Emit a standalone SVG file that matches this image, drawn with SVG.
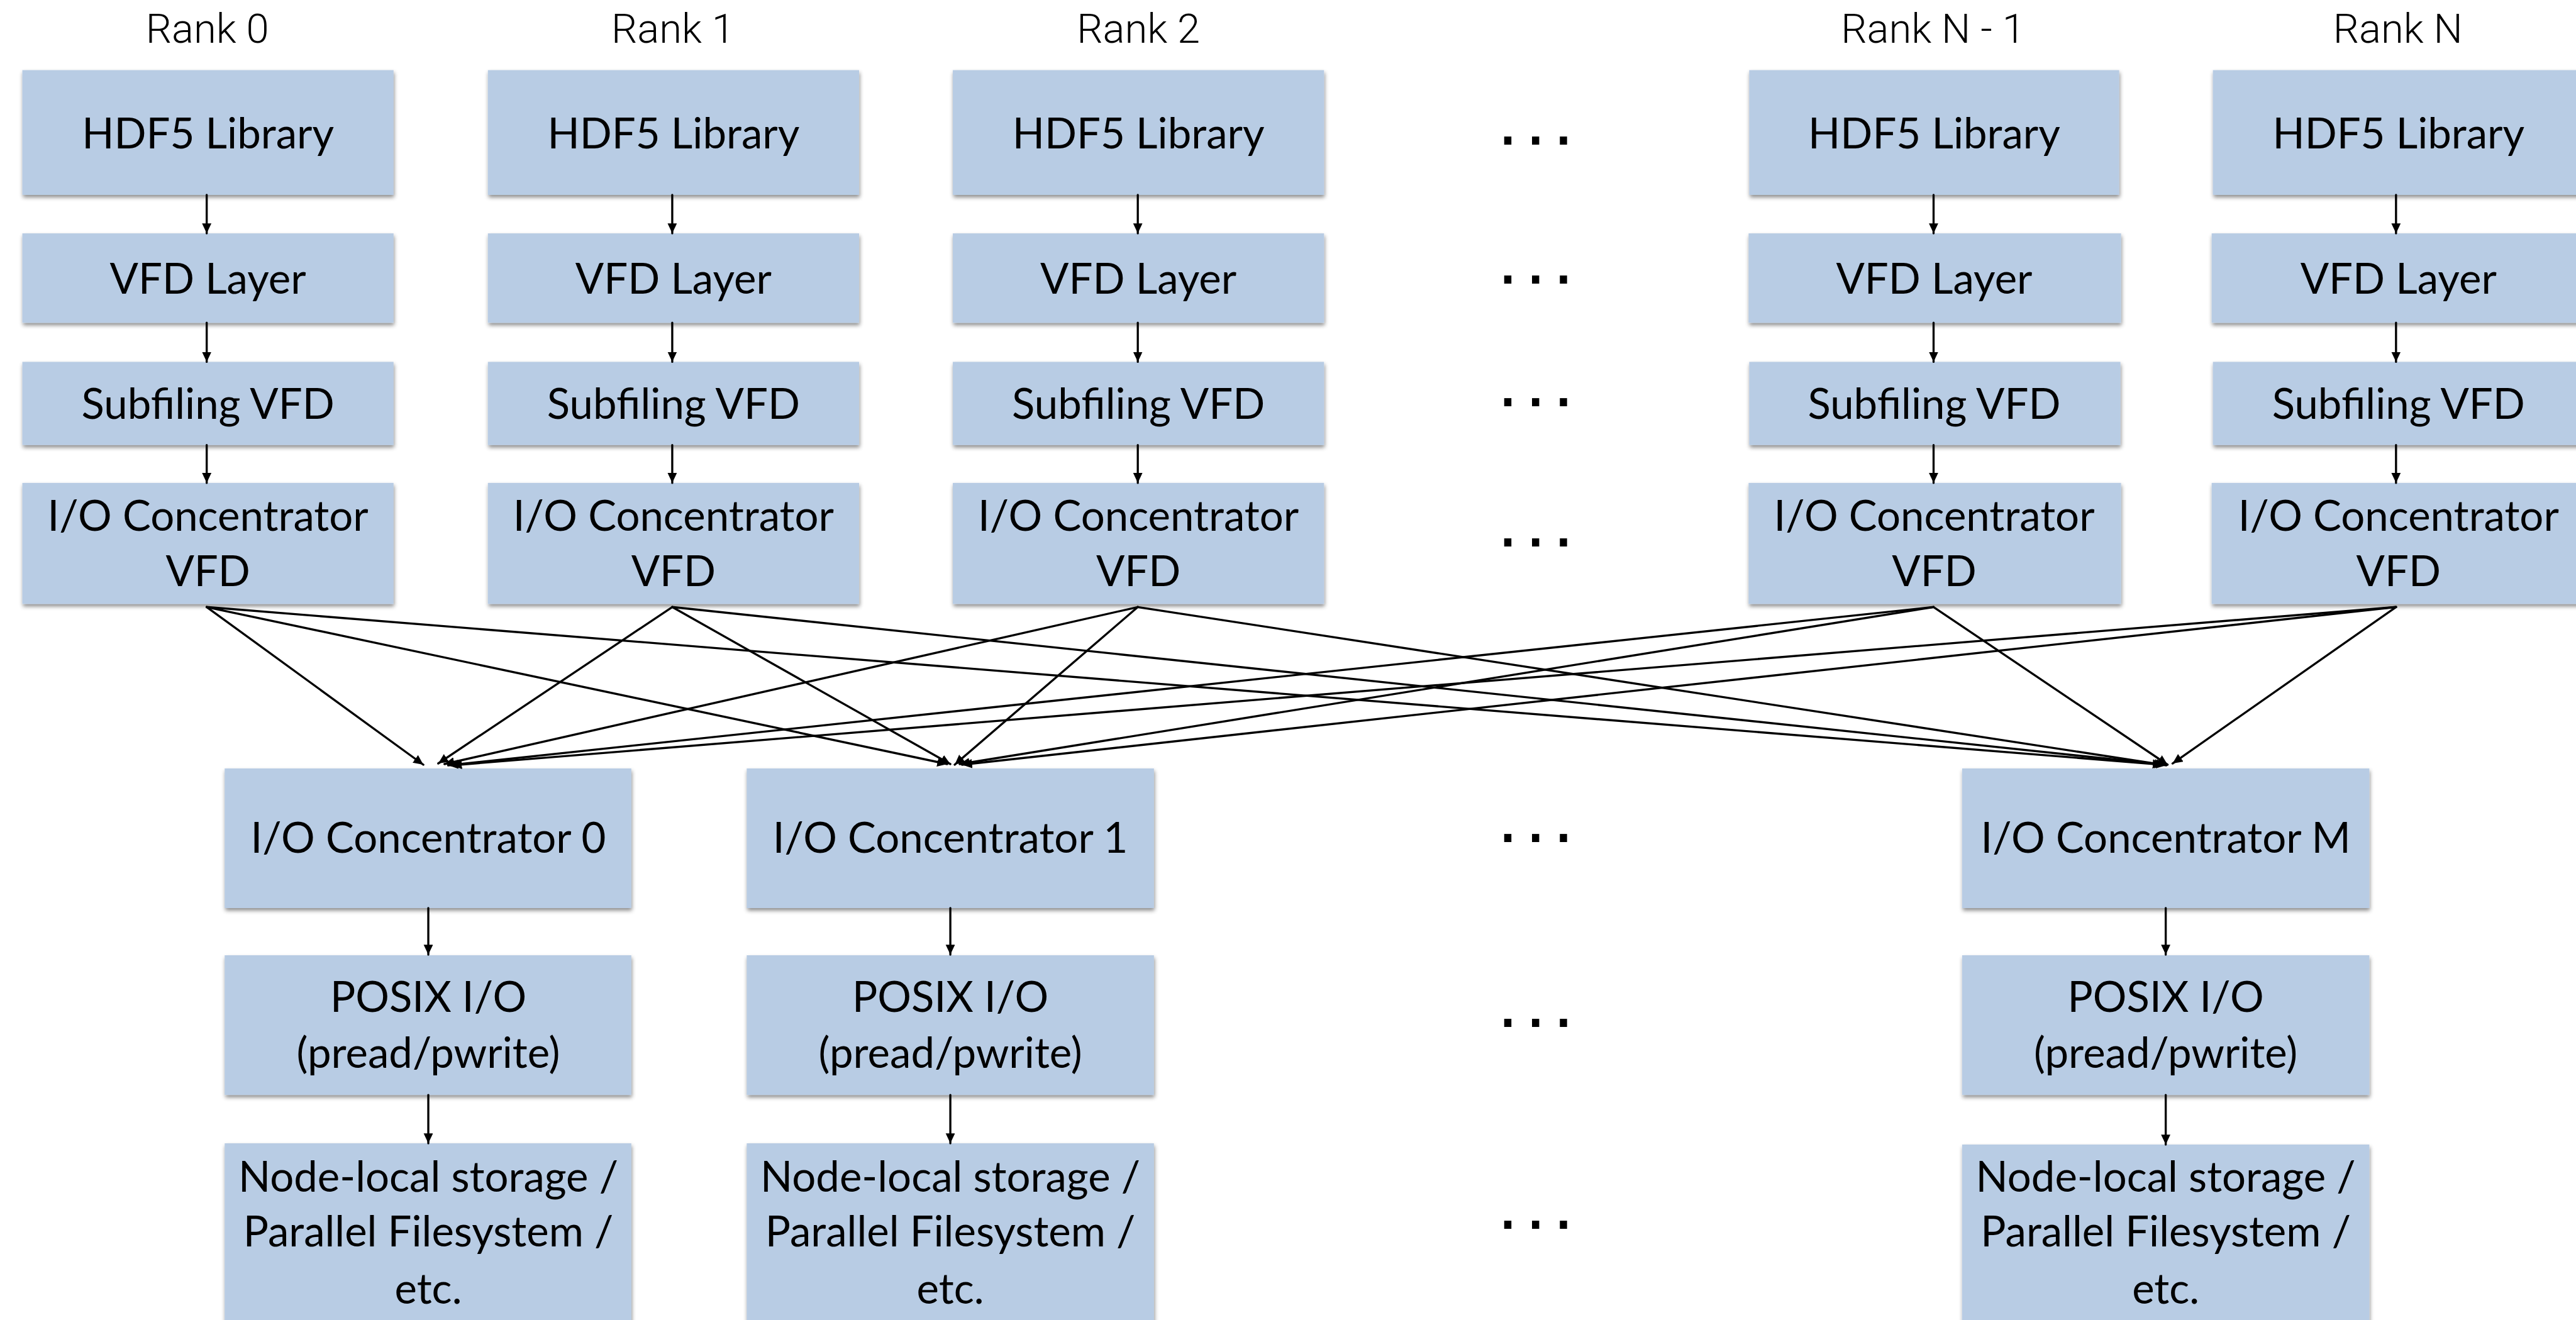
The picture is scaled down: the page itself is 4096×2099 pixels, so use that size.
<svg xmlns="http://www.w3.org/2000/svg" width="4096" height="2099" viewBox="0 0 4096 2099">
<defs>
<style>
.box{fill:#b8cce4;filter:url(#sh)}
.t{font-family:Lato,"Liberation Sans",sans-serif;font-size:68px;fill:#000;text-anchor:middle}
.rk{font-family:Roboto,"Liberation Sans",sans-serif;font-weight:300;font-size:66px;fill:#000;text-anchor:middle}
.dots{font-family:"Liberation Sans",sans-serif;font-size:122px;fill:#000;letter-spacing:11px}
.c line{stroke:#000;stroke-width:3.4;stroke-linecap:round;marker-end:url(#ah)}
</style>
<filter id="sh" x="-5%" y="-10%" width="110%" height="125%">
<feDropShadow dx="1" dy="4" stdDeviation="3" flood-color="#000" flood-opacity="0.45"/>
</filter>
<marker id="ah" markerUnits="userSpaceOnUse" markerWidth="18" markerHeight="16" refX="16" refY="7.5" orient="auto">
<path d="M0,0 L16,7.5 L0,15 z" fill="#000"/>
</marker>
</defs>
<rect width="4096" height="2099" fill="#fff"/>
<g transform="scale(0.987)">
<g id="labels">
<text class="rk" x="334" y="69">Rank 0</text>
<text class="rk" x="1084" y="69">Rank 1</text>
<text class="rk" x="1834" y="69">Rank 2</text>
<text class="rk" x="3114" y="69">Rank N - 1</text>
<text class="rk" x="3863" y="69">Rank N</text>
</g>
<g id="dots">
<text class="dots" x="2412" y="233">...</text>
<text class="dots" x="2412" y="457">...</text>
<text class="dots" x="2412" y="655">...</text>
<text class="dots" x="2412" y="880">...</text>
<text class="dots" x="2412" y="1357">...</text>
<text class="dots" x="2412" y="1655">...</text>
<text class="dots" x="2412" y="1980">...</text>
</g>
<g id="rank0">
<rect class="box" x="36" y="113" width="598" height="201"/><text class="t" x="335" y="239">HDF5 Library</text>
<rect class="box" x="36" y="376" width="598" height="144"/><text class="t" x="335" y="473">VFD Layer</text>
<rect class="box" x="36" y="583" width="598" height="134"/><text class="t" x="335" y="675">Subfiling VFD</text>
<rect class="box" x="36" y="778" width="598" height="195"/><text class="t" x="335" y="855">I/O Concentrator</text><text class="t" x="335" y="944">VFD</text>
</g>
<g id="rank1">
<rect class="box" x="786" y="113" width="598" height="201"/><text class="t" x="1085" y="239">HDF5 Library</text>
<rect class="box" x="786" y="376" width="598" height="144"/><text class="t" x="1085" y="473">VFD Layer</text>
<rect class="box" x="786" y="583" width="598" height="134"/><text class="t" x="1085" y="675">Subfiling VFD</text>
<rect class="box" x="786" y="778" width="598" height="195"/><text class="t" x="1085" y="855">I/O Concentrator</text><text class="t" x="1085" y="944">VFD</text>
</g>
<g id="rank2">
<rect class="box" x="1535" y="113" width="598" height="201"/><text class="t" x="1834" y="239">HDF5 Library</text>
<rect class="box" x="1535" y="376" width="598" height="144"/><text class="t" x="1834" y="473">VFD Layer</text>
<rect class="box" x="1535" y="583" width="598" height="134"/><text class="t" x="1834" y="675">Subfiling VFD</text>
<rect class="box" x="1535" y="778" width="598" height="195"/><text class="t" x="1834" y="855">I/O Concentrator</text><text class="t" x="1834" y="944">VFD</text>
</g>
<g id="rankN-1">
<rect class="box" x="2818" y="113" width="596" height="201"/><text class="t" x="3116" y="239">HDF5 Library</text>
<rect class="box" x="2817" y="376" width="600" height="144"/><text class="t" x="3116" y="473">VFD Layer</text>
<rect class="box" x="2818" y="583" width="598" height="134"/><text class="t" x="3116" y="675">Subfiling VFD</text>
<rect class="box" x="2817" y="778" width="600" height="195"/><text class="t" x="3116" y="855">I/O Concentrator</text><text class="t" x="3116" y="944">VFD</text>
</g>
<g id="rankN">
<rect class="box" x="3565" y="113" width="598" height="201"/><text class="t" x="3864" y="239">HDF5 Library</text>
<rect class="box" x="3563" y="376" width="602" height="144"/><text class="t" x="3864" y="473">VFD Layer</text>
<rect class="box" x="3565" y="583" width="598" height="134"/><text class="t" x="3864" y="675">Subfiling VFD</text>
<rect class="box" x="3563" y="778" width="602" height="195"/><text class="t" x="3864" y="855">I/O Concentrator</text><text class="t" x="3864" y="944">VFD</text>
</g>
<g id="ioc0">
<rect class="box" x="362" y="1238" width="655" height="225"/><text class="t" x="690" y="1374">I/O Concentrator 0</text>
<rect class="box" x="362" y="1539" width="655" height="225"/><text class="t" x="690" y="1630">POSIX I/O</text><text class="t" x="690" y="1720">(pread/pwrite)</text>
<rect class="box" x="362" y="1842" width="655" height="300"/><text class="t" x="690" y="1920">Node-local storage /</text><text class="t" x="690" y="2008">Parallel Filesystem /</text><text class="t" x="690" y="2100">etc.</text>
</g>
<g id="ioc1">
<rect class="box" x="1203" y="1238" width="656" height="225"/><text class="t" x="1531" y="1374">I/O Concentrator 1</text>
<rect class="box" x="1203" y="1539" width="656" height="225"/><text class="t" x="1531" y="1630">POSIX I/O</text><text class="t" x="1531" y="1720">(pread/pwrite)</text>
<rect class="box" x="1203" y="1842" width="656" height="300"/><text class="t" x="1531" y="1920">Node-local storage /</text><text class="t" x="1531" y="2008">Parallel Filesystem /</text><text class="t" x="1531" y="2100">etc.</text>
</g>
<g id="iocM">
<rect class="box" x="3161" y="1238" width="656" height="225"/><text class="t" x="3489" y="1374">I/O Concentrator M</text>
<rect class="box" x="3161" y="1539" width="656" height="225"/><text class="t" x="3489" y="1630">POSIX I/O</text><text class="t" x="3489" y="1720">(pread/pwrite)</text>
<rect class="box" x="3161" y="1844" width="656" height="300"/><text class="t" x="3489" y="1920">Node-local storage /</text><text class="t" x="3489" y="2008">Parallel Filesystem /</text><text class="t" x="3489" y="2100">etc.</text>
</g>
<g id="connectors" class="c">
<line x1="333" y1="314" x2="333" y2="376"/><line x1="333" y1="520" x2="333" y2="583"/><line x1="333" y1="717" x2="333" y2="778"/>
<line x1="1083" y1="314" x2="1083" y2="376"/><line x1="1083" y1="520" x2="1083" y2="583"/><line x1="1083" y1="717" x2="1083" y2="778"/>
<line x1="1833" y1="314" x2="1833" y2="376"/><line x1="1833" y1="520" x2="1833" y2="583"/><line x1="1833" y1="717" x2="1833" y2="778"/>
<line x1="3115" y1="314" x2="3115" y2="376"/><line x1="3115" y1="520" x2="3115" y2="583"/><line x1="3115" y1="717" x2="3115" y2="778"/>
<line x1="3860" y1="314" x2="3860" y2="376"/><line x1="3860" y1="520" x2="3860" y2="583"/><line x1="3860" y1="717" x2="3860" y2="778"/>
<line x1="333" y1="978" x2="682" y2="1232"/><line x1="333" y1="978" x2="1526" y2="1231"/><line x1="333" y1="978" x2="3484" y2="1232"/>
<line x1="1083" y1="978" x2="706" y2="1230"/><line x1="1083" y1="978" x2="1531" y2="1231"/><line x1="1083" y1="978" x2="3487" y2="1232"/>
<line x1="1833" y1="978" x2="716" y2="1231"/><line x1="1833" y1="978" x2="1538" y2="1232"/><line x1="1833" y1="978" x2="3490" y2="1233"/>
<line x1="3115" y1="978" x2="722" y2="1233"/><line x1="3115" y1="978" x2="1546" y2="1231"/><line x1="3115" y1="978" x2="3492" y2="1232"/>
<line x1="3860" y1="978" x2="728" y2="1233"/><line x1="3860" y1="978" x2="1550" y2="1232"/><line x1="3860" y1="978" x2="3500" y2="1230"/>
<line x1="690" y1="1463" x2="690" y2="1538"/><line x1="690" y1="1764" x2="690" y2="1842"/>
<line x1="1531" y1="1463" x2="1531" y2="1538"/><line x1="1531" y1="1764" x2="1531" y2="1842"/>
<line x1="3489" y1="1463" x2="3489" y2="1538"/><line x1="3489" y1="1764" x2="3489" y2="1844"/>
</g>
</g>
</svg>
